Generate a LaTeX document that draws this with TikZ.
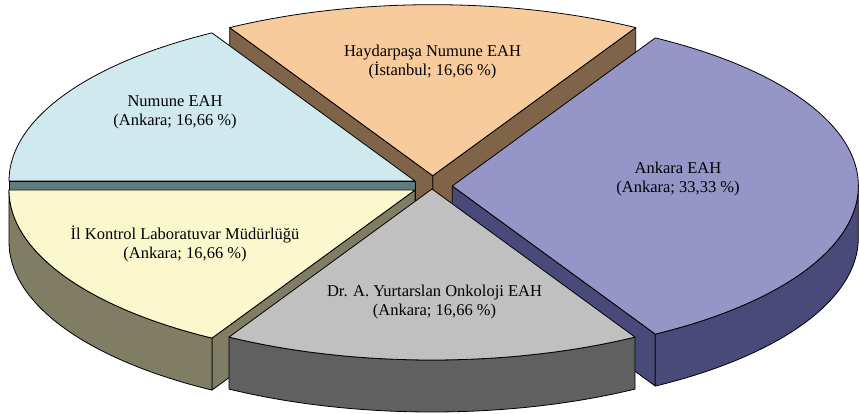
\documentclass[tikz,border=0pt]{standalone}
\usepackage{fontspec}
\setmainfont{Liberation Serif}
\definecolor{hayTop}{HTML}{F8CB9D}
\definecolor{haySide}{HTML}{80644A}
\definecolor{numTop}{HTML}{CFE9EE}
\definecolor{numSide}{HTML}{5F7D7D}
\definecolor{ankTop}{HTML}{9595C8}
\definecolor{ankSide}{HTML}{4A4A7A}
\definecolor{ilkTop}{HTML}{FBF8CE}
\definecolor{ilkSide}{HTML}{7F7D63}
\definecolor{yurTop}{HTML}{C0C0C0}
\definecolor{yurSide}{HTML}{606060}
\tikzset{pie/.style={x radius=406pt, y radius=171pt},
  sliceface/.style={draw=black, line width=0.8pt, line join=round},
  slicetext/.style={align=center, text=black, font=\fontsize{16.5}{19}\selectfont}}

\begin{document}
\begin{tikzpicture}[x=1pt, y=1pt]
\useasboundingbox (0,0) rectangle (859,414);
  \coordinate (hayO) at (432.7,238.3);
  \coordinate (numO) at (415,233);
  \coordinate (ankO) at (452.3,228);
  \coordinate (ilkO) at (415,224);
  \coordinate (yurO) at (432,225);
%% Haydarpasa slice
  \draw[sliceface, fill=haySide] (hayO) -- ++(60:406pt and 171pt) -- ++(0,-52) -- ([yshift=-52pt]hayO) -- cycle;
  \draw[sliceface, fill=haySide] (hayO) -- ++(120:406pt and 171pt) -- ++(0,-52) -- ([yshift=-52pt]hayO) -- cycle;
  \draw[sliceface, fill=hayTop] (hayO) -- ++(60:406pt and 171pt) arc[pie, start angle=60, end angle=120] -- cycle;
%% Numune slice
  \draw[sliceface, fill=numSide] (numO) -- ++(180:406pt and 171pt) -- ++(0,-52) -- ([yshift=-52pt]numO) -- cycle;
  \draw[sliceface, fill=numTop] (numO) -- ++(120:406pt and 171pt) arc[pie, start angle=120, end angle=180] -- cycle;
%% Ankara slice
  \draw[sliceface, fill=ankSide] (ankO) -- ++(-60:406pt and 171pt) -- ++(0,-52) -- ([yshift=-52pt]ankO) -- cycle;
  \draw[sliceface, fill=ankSide] (ankO) ++(-60:406pt and 171pt) arc[pie, start angle=-60, end angle=0] -- ++(0,-52) arc[pie, start angle=0, end angle=-60] -- cycle;
  \draw[sliceface, fill=ankTop] (ankO) -- ++(-60:406pt and 171pt) arc[pie, start angle=-60, end angle=60] -- cycle;
%% Il Kontrol slice
  \draw[sliceface, fill=ilkSide] (ilkO) -- ++(240:406pt and 171pt) -- ++(0,-52) -- ([yshift=-52pt]ilkO) -- cycle;
  \draw[sliceface, fill=ilkSide] (ilkO) ++(180:406pt and 171pt) arc[pie, start angle=180, end angle=240] -- ++(0,-52) arc[pie, start angle=240, end angle=180] -- cycle;
  \draw[sliceface, fill=ilkTop] (ilkO) -- ++(180:406pt and 171pt) arc[pie, start angle=180, end angle=240] -- cycle;
%% Yurtarslan slice
  \draw[sliceface, fill=yurSide] (yurO) ++(240:406pt and 171pt) arc[pie, start angle=240, end angle=300] -- ++(0,-52) arc[pie, start angle=300, end angle=240] -- cycle;
  \draw[sliceface, fill=yurTop] (yurO) -- ++(240:406pt and 171pt) arc[pie, start angle=240, end angle=300] -- cycle;
%% labels
  \node[slicetext] (haydarpasa) at (432.5,352) {Haydarpaşa Numune EAH\\(İstanbul; 16,66 \%)};
  \node[slicetext] (numune) at (175,302) {Numune EAH\\(Ankara; 16,66 \%)};
  \node[slicetext] (ankara) at (678,235) {Ankara EAH\\(Ankara; 33,33 \%)};
  \node[slicetext] (ilkontrol) at (185,170) {İl Kontrol Laboratuvar Müdürlüğü\\(Ankara; 16,66 \%)};
  \node[slicetext] (yurtarslan) at (434.5,112) {Dr. A. Yurtarslan Onkoloji EAH\\(Ankara; 16,66 \%)};
\end{tikzpicture}
\end{document}
